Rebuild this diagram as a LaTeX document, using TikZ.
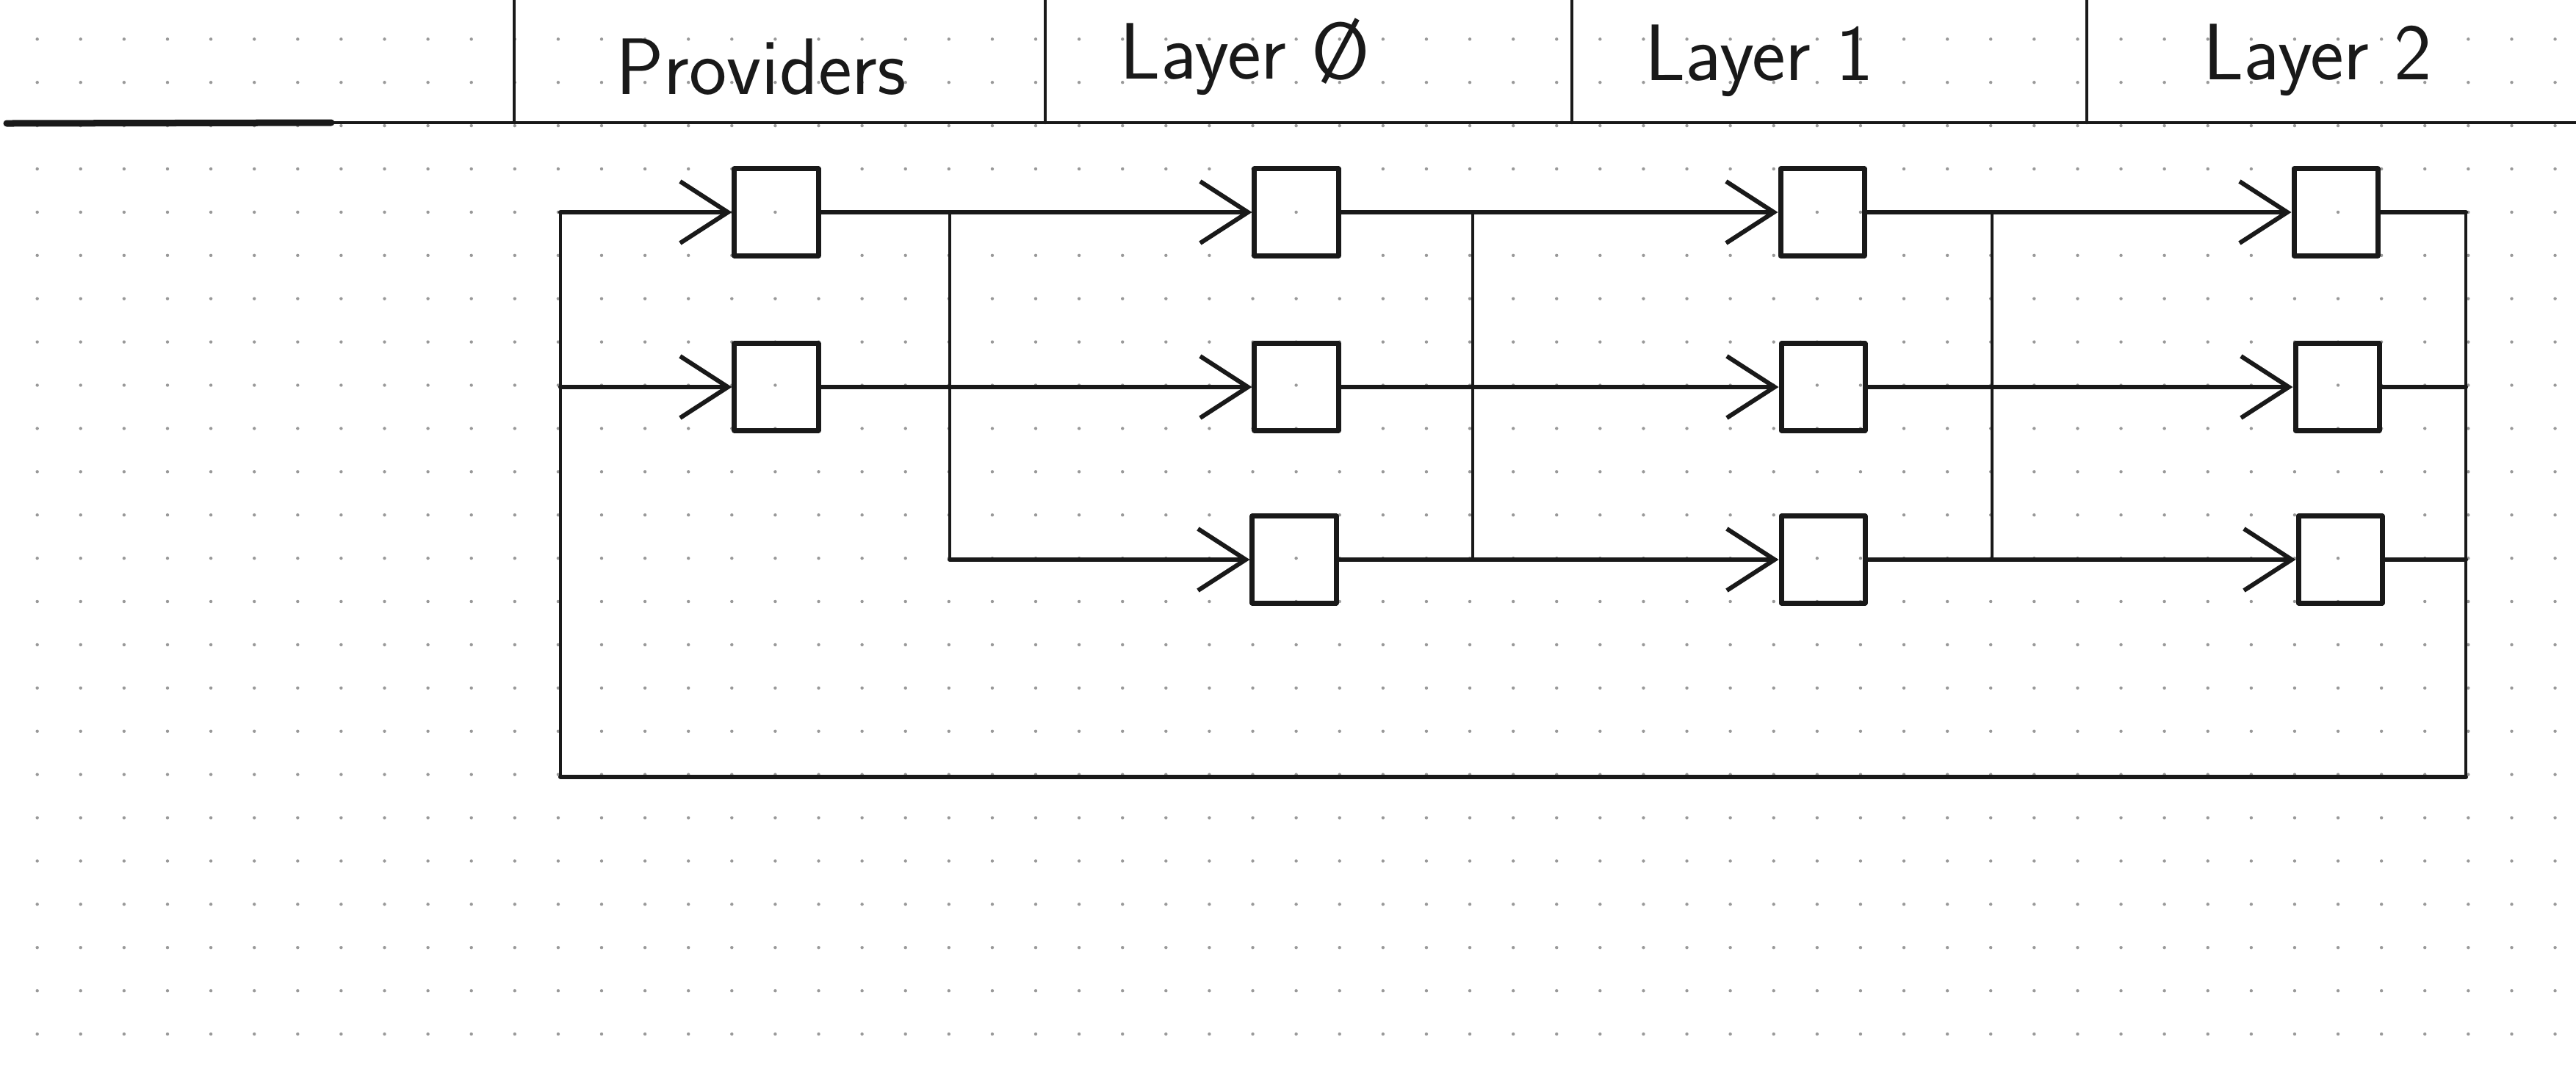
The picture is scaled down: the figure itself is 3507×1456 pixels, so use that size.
\documentclass[tikz,border=0pt]{standalone}
\usetikzlibrary{arrows.meta}
\begin{document}
\begin{tikzpicture}[x=0.01cm,y=-0.01cm,
  ink/.style={draw=black!90, line cap=round, line join=round},
  box/.style={ink, line width=0.07cm, minimum width=1.14cm, minimum height=1.18cm, inner sep=0pt},
  wire/.style={ink, line width=0.06cm},
  feed/.style={wire, -{Straight Barb[length=0.65cm,width=0.84cm]}},
  thinwire/.style={ink, line width=0.042cm},
  rulewire/.style={ink, line width=0.045cm},
  head/.style={font=\sffamily\fontsize{31}{36}\selectfont, anchor=base, text=black!90}
]
\useasboundingbox (0,0) rectangle (3507,1456);
\fill[white] (0,0) rectangle (3507,1456);
% dot grid
\foreach \i in {0,...,58}{
  \foreach \j in {0,...,23}{
    \fill[black!40] (50.7+59.1*\i, 53.3+58.9*\j) circle[radius=0.022cm];
  }
}
% header
\coordinate (hl) at (9,168);
\coordinate (hm) at (451,167);
\coordinate (hr) at (3507,167);
\draw[ink, line width=0.09cm] (hl) -- (hm);
\draw[rulewire] (hm) -- (hr);
\foreach \x in {700,1423,2140,2841}{
  \draw[thinwire] (\x,0) -- (\x,167);
}
\node[head] (tp) at (1036,128) {Providers};
\node[head] (t0) at (1695,107) {Layer Ø};
\node[head] (t1) at (2395,109) {Layer 1};
\node[head] (t2) at (3155,108) {Layer 2};
% boxes
\node[box] (P1) at (1057,289) {};
\node[box] (P2) at (1057,527) {};
\node[box] (A0) at (1765,289) {};
\node[box] (B0) at (1765,527) {};
\node[box] (C0) at (1762,762) {};
\node[box] (A1) at (2481,289) {};
\node[box] (B1) at (2482,527) {};
\node[box] (C1) at (2482,762) {};
\node[box] (A2) at (3180,289) {};
\node[box] (B2) at (3182,527) {};
\node[box] (C2) at (3186,762) {};
% loop coordinates
\coordinate (lt1) at (763,289);
\coordinate (lt2) at (763,527);
\coordinate (lb) at (763,1058);
\coordinate (rb) at (3357,1058);
\coordinate (rt1) at (3357,289);
\coordinate (rt2) at (3357,527);
\coordinate (rt3) at (3357,762);
% junctions
\coordinate (j0a) at (1293,289);
\coordinate (j0c) at (1293,762);
\coordinate (j1a) at (2005,289);
\coordinate (j1c) at (2005,762);
\coordinate (j2a) at (2712,289);
\coordinate (j2c) at (2712,762);
% feedback loop
\draw[thinwire] (lt1) -- (lb);
\draw[wire] (lb) -- (rb);
\draw[thinwire] (rb) -- (rt1);
\draw[feed] (lt1) -- (P1.west);
\draw[feed] (lt2) -- (P2.west);
\draw[wire] (A2.east) -- (rt1);
\draw[wire] (B2.east) -- (rt2);
\draw[wire] (C2.east) -- (rt3);
% providers -> layer 0
\draw[feed] (P1.east) -- (A0.west);
\draw[feed] (P2.east) -- (B0.west);
\draw[thinwire] (j0a) -- (j0c);
\draw[feed] (j0c) -- (C0.west);
% layer 0 -> layer 1
\draw[feed] (A0.east) -- (A1.west);
\draw[feed] (B0.east) -- (B1.west);
\draw[feed] (C0.east) -- (C1.west);
\draw[thinwire] (j1a) -- (j1c);
% layer 1 -> layer 2
\draw[feed] (A1.east) -- (A2.west);
\draw[feed] (B1.east) -- (B2.west);
\draw[feed] (C1.east) -- (C2.west);
\draw[thinwire] (j2a) -- (j2c);
\end{tikzpicture}
\end{document}
